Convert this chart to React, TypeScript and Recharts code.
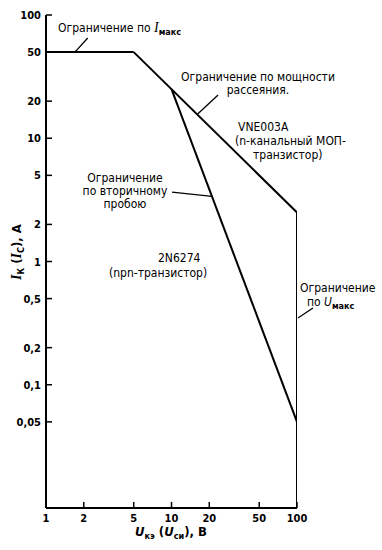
import { LineChart, Line, XAxis, YAxis, ReferenceLine } from 'recharts';

// область безопасной работы, лог-лог
const xTicks = [1, 2, 5, 10, 20, 50, 100];
const yTicks = [100, 50, 20, 10, 5, 2, 1, 0.5, 0.2, 0.1, 0.05];

const iMaxV = [1, 5];
const iMaxI = [50, 50];
const powerV = [5, 100];
const powerI = [50, 2.5];
const uMaxV = [100, 100];
const uMaxI = [2.5, 0.01];
const sbV = [10, 100];
const sbI = [25, 0.05];

const toPts = (v: number[], i: number[]) => v.map((x, k) => ({ v: x, i: i[k] }));

const FONT = "'Liberation Sans Narrow', 'DejaVu Sans Condensed', sans-serif";
const TM = 5;

const fmt = (n: number) => String(n).replace('.', ',');

function YTick(props: any) {
  const { x, y, payload } = props;
  const ax = x + TM;
  return (
    <g>
      <line x1={ax} y1={y} x2={ax + 6} y2={y} stroke="#000" strokeWidth={1.5} />
      <text x={x} y={y} dy={4} textAnchor="end" fontSize={11} fontWeight="bold" fontFamily={FONT} fill="#000">
        {fmt(payload.value)}
      </text>
    </g>
  );
}

function XTick(props: any) {
  const { x, y, payload } = props;
  const ay = y - TM;
  return (
    <g>
      {payload.value !== 1 && <line x1={x} y1={ay} x2={x} y2={ay - 6} stroke="#000" strokeWidth={1.5} />}
      <text x={x} y={y} dy={9} textAnchor="middle" fontSize={11} fontWeight="bold" fontFamily={FONT} fill="#000">
        {payload.value}
      </text>
    </g>
  );
}

const note = (left: number, top: number, extra?: any): any => ({
  position: 'absolute',
  left,
  top,
  whiteSpace: 'nowrap',
  fontFamily: FONT,
  fontSize: 12,
  lineHeight: '12px',
  color: '#000',
  ...extra,
});

// строка по центру
const mid = (cx: number, top: number) => note(cx, top, { transform: 'translateX(-50%)' });

const sub = { fontSize: 9, verticalAlign: 'baseline', position: 'relative' as const, top: 3, fontWeight: 'bold' as const };
const serifI = { fontFamily: 'Liberation Serif, serif', fontSize: 14 };

export default function App() {
  const lines = [
    toPts(iMaxV, iMaxI),
    toPts(powerV, powerI),
    toPts(uMaxV, uMaxI),
    toPts(sbV, sbI),
  ];
  return (
    <div style={{ position: 'absolute', left: 0, top: 0, width: 382, height: 550, background: '#fff' }}>
      <LineChart width={382} height={550} margin={{ top: 15, right: 85, left: 0, bottom: 0 }}>
        <XAxis
          type="number"
          dataKey="v"
          scale="log"
          domain={[1, 100]}
          ticks={xTicks}
          allowDataOverflow
          height={42}
          axisLine={{ stroke: '#000', strokeWidth: 2 }}
          tickLine={false}
          tickSize={0}
          tickMargin={TM}
          tick={<XTick />}
          interval={0}
        />
        <YAxis
          type="number"
          dataKey="i"
          scale="log"
          domain={[0.01, 100]}
          ticks={yTicks}
          allowDataOverflow
          width={46}
          axisLine={{ stroke: '#000', strokeWidth: 2 }}
          tickLine={false}
          tickSize={0}
          tickMargin={TM}
          tick={<YTick />}
          interval={0}
        />
        {lines.map((d, k) => (
          <Line
            key={k}
            data={d}
            dataKey="i"
            type="linear"
            stroke="#000"
            strokeWidth={2}
            dot={false}
            isAnimationActive={false}
          />
        ))}
        <ReferenceLine segment={[{ x: 1.7, y: 50 }, { x: 2.15, y: 65 }]} stroke="#000" strokeWidth={1.3} ifOverflow="visible" />
        <ReferenceLine segment={[{ x: 16, y: 15.6 }, { x: 23.5, y: 22.4 }]} stroke="#000" strokeWidth={1.3} ifOverflow="visible" />
        <ReferenceLine segment={[{ x: 10.1, y: 3.66 }, { x: 21, y: 3.38 }]} stroke="#000" strokeWidth={1.3} ifOverflow="visible" />
        <ReferenceLine segment={[{ x: 101.8, y: 0.348 }, { x: 134, y: 0.42 }]} stroke="#000" strokeWidth={1.3} ifOverflow="visible" />
      </LineChart>

      <div style={note(58, 22)}>
        Ограничение по <i style={serifI}>I</i>
        <span style={sub}>макс</span>
      </div>
      <div style={mid(258, 71)}>Ограничение по мощности</div>
      <div style={mid(258, 84)}>рассеяния.</div>
      <div style={note(238, 121)}>VNE003A</div>
      <div style={note(235, 135)}>(n-канальный МОП-</div>
      <div style={note(253, 149)}>транзистор)</div>
      <div style={mid(125, 172)}>Ограничение</div>
      <div style={mid(125, 185)}>по вторичному</div>
      <div style={mid(125, 198)}>пробою</div>
      <div style={note(158, 252)}>2N6274</div>
      <div style={note(109, 267)}>(npn-транзистор)</div>
      <div style={note(300, 282)}>Ограничение</div>
      <div style={note(307, 296)}>
        по <i>U</i>
        <span style={sub}>макс</span>
      </div>
      <div style={note(135, 526, { fontWeight: 'bold', fontSize: 13 })}>
        <i>U</i>
        <span style={sub}>кэ</span> (<i>U</i>
        <span style={sub}>си</span>), В
      </div>
      <div
        style={note(17, 252, {
          fontWeight: 'bold',
          fontSize: 13,
          transform: 'translate(-50%, -50%) rotate(-90deg)',
        })}
      >
        <i style={serifI}>I</i>
        <span style={sub}>К</span> (<i style={serifI}>I</i>
        <span style={sub}>С</span>), А
      </div>
    </div>
  );
}
